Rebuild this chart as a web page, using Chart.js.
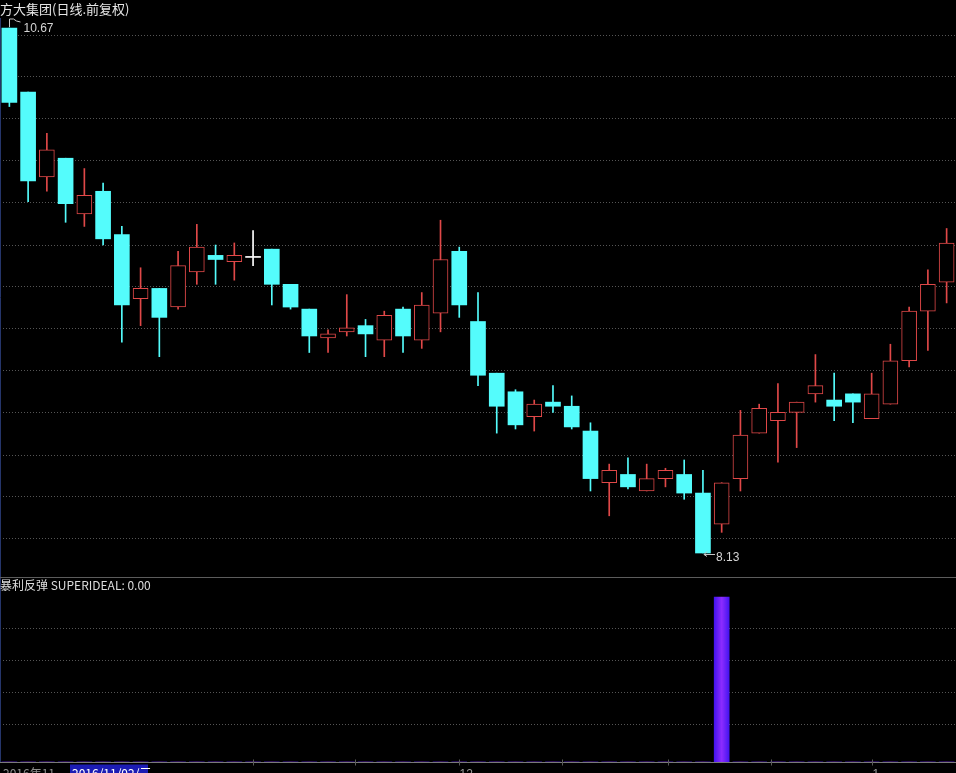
<!DOCTYPE html>
<html>
<head>
<meta charset="utf-8">
<script src="https://cdn.jsdelivr.net/npm/chart.js@4.4.1/dist/chart.umd.min.js"></script>
<style>
  html, body { margin: 0; padding: 0; background: #000; overflow: hidden; }
  #wrap { position: relative; width: 956px; height: 773px; background: #000; }
  canvas { position: absolute; left: 0; display: block; }
  #kline { top: 0; }
  #ind { top: 577px; }
</style>
</head>
<body>
<div id="wrap">
  <canvas id="kline" width="956" height="577"></canvas>
  <canvas id="ind" width="956" height="196"></canvas>
</div>
<script>
// 方大集团 日线 (前复权), 51 trading days
var opens  = [10.67, 10.36, 9.95, 10.04, 9.77, 9.88, 9.67, 9.36, 9.41, 9.32,
              9.49, 9.57, 9.54, 9.56, 9.60, 9.43, 9.31, 9.17, 9.20, 9.23,
              9.16, 9.31, 9.16, 9.29, 9.59, 9.25, 9.00, 8.91, 8.79, 8.86,
              8.84, 8.72, 8.47, 8.51, 8.43, 8.49, 8.51, 8.42, 8.27, 8.49,
              8.71, 8.77, 8.81, 8.90, 8.87, 8.90, 8.78, 8.85, 9.06, 9.30, 9.44];
var highs  = [10.67, 10.36, 10.16, 10.04, 9.99, 9.92, 9.71, 9.51, 9.41, 9.59,
              9.72, 9.62, 9.63, 9.69, 9.60, 9.43, 9.31, 9.21, 9.38, 9.26,
              9.30, 9.32, 9.39, 9.74, 9.61, 9.39, 9.00, 8.92, 8.87, 8.94,
              8.89, 8.76, 8.56, 8.59, 8.56, 8.54, 8.58, 8.53, 8.47, 8.82,
              8.85, 8.95, 8.86, 9.09, 9.00, 8.90, 9.00, 9.14, 9.32, 9.50, 9.70];
var lows   = [10.29, 9.83, 9.88, 9.73, 9.71, 9.62, 9.15, 9.23, 9.08, 9.31,
              9.43, 9.43, 9.45, 9.52, 9.33, 9.31, 9.10, 9.10, 9.18, 9.08,
              9.08, 9.10, 9.12, 9.20, 9.27, 8.94, 8.71, 8.73, 8.72, 8.81,
              8.73, 8.43, 8.31, 8.44, 8.43, 8.45, 8.39, 8.13, 8.23, 8.43,
              8.71, 8.57, 8.64, 8.86, 8.77, 8.76, 8.78, 8.85, 9.03, 9.11, 9.34];
var closes = [10.31, 9.93, 10.08, 9.82, 9.86, 9.65, 9.33, 9.41, 9.27, 9.52,
              9.61, 9.55, 9.57, 9.56, 9.43, 9.32, 9.18, 9.19, 9.22, 9.19,
              9.28, 9.18, 9.33, 9.55, 9.33, 8.99, 8.84, 8.75, 8.85, 8.84,
              8.74, 8.49, 8.53, 8.45, 8.49, 8.53, 8.42, 8.13, 8.47, 8.70,
              8.83, 8.81, 8.86, 8.94, 8.84, 8.86, 8.90, 9.06, 9.30, 9.43, 9.63];
// 暴利反弹 SUPERIDEAL signal
var signal = [0, 0, 0, 0, 0, 0, 0, 0, 0, 0,
              0, 0, 0, 0, 0, 0, 0, 0, 0, 0,
              0, 0, 0, 0, 0, 0, 0, 0, 0, 0,
              0, 0, 0, 0, 0, 0, 0, 0, 1, 0,
              0, 0, 0, 0, 0, 0, 0, 0, 0, 0, 0];
// bottom axis ticks (position in bar slots) and their labels
var xTickPos    = [13.5, 18.94, 24.5, 29.98, 35.64, 41.13, 46.5];
var xTickLabels = ['', '', '12', '', '', '', '1'];
// dotted grid levels
var priceGrid = [8.198, 8.401, 8.604, 8.808, 9.011, 9.214, 9.417, 9.620, 9.824, 10.027, 10.230, 10.433, 10.636];
var sigGrid   = [0.23, 0.424, 0.618, 0.812];

var title = '方大集团(日线.前复权)';
var indLabel = '暴利反弹 SUPERIDEAL: 0.00';

var UP = '#e04848', DOWN = '#54fcfc', FLAT = '#ffffff';
var GRID = '#555555';

function dir(i) {
  if (closes[i] > opens[i]) return 1;
  if (closes[i] < opens[i]) return -1;
  return 0;
}
function colorOf(i) {
  var d = dir(i);
  return d > 0 ? UP : (d < 0 ? DOWN : FLAT);
}

var wicks = [], bodies = [];
for (var i = 0; i < opens.length; i++) {
  wicks.push({ x: i + 0.5, y: [lows[i], highs[i]] });
  bodies.push({ x: i + 0.5, y: [Math.min(opens[i], closes[i]), Math.max(opens[i], closes[i])] });
}

var topDecor = {
  id: 'topDecor',
  afterDraw: function(chart) {
    var ctx = chart.ctx, xs = chart.scales.x, ys = chart.scales.y;
    ctx.save();
    ctx.strokeStyle = '#25356a';
    ctx.lineWidth = 1;
    ctx.beginPath(); ctx.moveTo(0.5, 18); ctx.lineTo(0.5, chart.height); ctx.stroke();

    ctx.fillStyle = '#e6e6e6';
    ctx.font = '13px "Noto Sans CJK SC"';
    ctx.textBaseline = 'alphabetic';
    ctx.fillText(title, 0, 14);

    // highest high marker
    var hi = highs.indexOf(Math.max.apply(null, highs));
    var hx = Math.round(xs.getPixelForValue(hi + 0.5)) + 0.5;
    var hy = Math.round(ys.getPixelForValue(highs[hi]));
    ctx.strokeStyle = '#c8c8c8';
    ctx.beginPath();
    ctx.moveTo(hx, hy - 1); ctx.lineTo(hx, hy - 9);
    ctx.lineTo(hx + 4, hy - 9); ctx.lineTo(hx + 7, hy - 7); ctx.lineTo(hx + 11, hy - 6);
    ctx.stroke();
    ctx.fillStyle = '#d4d4d4';
    ctx.font = '12px "Liberation Sans"';
    ctx.fillText(highs[hi].toFixed(2), hx + 14, hy + 4);

    // lowest low marker
    var lo = lows.indexOf(Math.min.apply(null, lows));
    var lx = Math.round(xs.getPixelForValue(lo + 0.5));
    var ly = Math.round(ys.getPixelForValue(lows[lo])) + 0.5;
    ctx.beginPath();
    ctx.moveTo(lx + 1, ly + 1); ctx.lineTo(lx + 12, ly + 1);
    ctx.moveTo(lx + 1, ly + 1); ctx.lineTo(lx + 4, ly - 2);
    ctx.moveTo(lx + 1, ly + 1); ctx.lineTo(lx + 4, ly + 3);
    ctx.stroke();
    ctx.fillText(lows[lo].toFixed(2), lx + 13, ly + 7);
    ctx.restore();
  }
};

new Chart(document.getElementById('kline').getContext('2d'), {
  type: 'bar',
  data: {
    datasets: [{
      label: 'body',
      data: bodies,
      grouped: false,
      barThickness: 15,
      minBarLength: 1,
      borderSkipped: false,
      backgroundColor: function(c) { var d = dir(c.dataIndex); return d > 0 ? '#000000' : colorOf(c.dataIndex); },
      borderColor: function(c) { return colorOf(c.dataIndex); },
      borderWidth: function(c) { return dir(c.dataIndex) > 0 ? 1 : 0; }
    }, {
      label: 'wick',
      data: wicks,
      grouped: false,
      barThickness: 1,
      borderWidth: 0,
      backgroundColor: function(c) { return colorOf(c.dataIndex); }
    }]
  },
  options: {
    responsive: false,
    animation: false,
    events: [],
    layout: { padding: 0 },
    plugins: { legend: { display: false }, tooltip: { enabled: false } },
    scales: {
      x: { type: 'linear', min: 0, max: 51, offset: false, display: false },
      y: {
        min: 8.0139, max: 10.8055,
        ticks: { display: false },
        grid: { color: GRID, drawTicks: false },
        border: { display: false, dash: [1, 2] },
        afterBuildTicks: function(s) { s.ticks = priceGrid.map(function(v) { return { value: v }; }); }
      }
    }
  },
  plugins: [topDecor]
});

var indDecor = {
  id: 'indDecor',
  afterDraw: function(chart) {
    var ctx = chart.ctx, xs = chart.scales.x, a = chart.chartArea;
    ctx.save();
    ctx.strokeStyle = '#25356a';
    ctx.lineWidth = 1;
    ctx.beginPath(); ctx.moveTo(0.5, 0); ctx.lineTo(0.5, a.bottom); ctx.stroke();
    ctx.strokeStyle = '#5c5c5c';
    ctx.beginPath(); ctx.moveTo(0, 0.5); ctx.lineTo(chart.width, 0.5); ctx.stroke();

    ctx.fillStyle = '#dcdcdc';
    ctx.font = '12px "Noto Sans CJK SC"';
    ctx.textBaseline = 'alphabetic';
    ctx.fillText(indLabel, 0, 13);

    var ay = Math.round(a.bottom) + 0.5;
    ctx.strokeStyle = '#7a7a7a';
    ctx.beginPath(); ctx.moveTo(0, ay); ctx.lineTo(chart.width, ay); ctx.stroke();
    ctx.fillStyle = '#9a9a9a';
    ctx.font = '12px "Liberation Sans"';
    for (var k = 0; k < xTickPos.length; k++) {
      var tx = Math.round(xs.getPixelForValue(xTickPos[k])) + 0.5;
      ctx.strokeStyle = '#5a5a5a';
      ctx.beginPath(); ctx.moveTo(tx, ay - 3); ctx.lineTo(tx, ay + 3); ctx.stroke();
      if (xTickLabels[k]) ctx.fillText(xTickLabels[k], tx, ay + 15);
    }
    ctx.fillStyle = '#8c8c8c';
    ctx.font = '12px "Noto Sans CJK SC"';
    ctx.fillText('2016年11', 3, ay + 15);
    ctx.fillStyle = '#1c1cb4';
    ctx.fillRect(70, ay + 2, 78, 12);
    ctx.fillStyle = '#ffffff';
    ctx.fillText('2016/11/02/三', 72, ay + 15);
    ctx.restore();
  }
};

new Chart(document.getElementById('ind').getContext('2d'), {
  type: 'bar',
  data: {
    datasets: [{
      label: 'SUPERIDEAL',
      data: signal.map(function(v, i) { return { x: i + 0.5, y: v }; }),
      barThickness: 15,
      borderWidth: 0,
      backgroundColor: function(c) {
        var ch = c.chart;
        if (!ch.chartArea) return '#6a1cff';
        var x = ch.scales.x.getPixelForValue(c.dataIndex + 0.5);
        var g = ch.ctx.createLinearGradient(x - 7.5, 0, x + 7.5, 0);
        g.addColorStop(0, '#4414f0');
        g.addColorStop(0.5, '#8c2cff');
        g.addColorStop(1, '#4414f0');
        return g;
      }
    }]
  },
  options: {
    responsive: false,
    animation: false,
    events: [],
    layout: { padding: { top: 0, bottom: 11, left: 0, right: 0 } },
    plugins: { legend: { display: false }, tooltip: { enabled: false } },
    scales: {
      x: { type: 'linear', min: 0, max: 51, offset: false, display: false },
      y: {
        min: 0, max: 1.1212,
        ticks: { display: false },
        grid: { color: GRID, drawTicks: false },
        border: { display: false, dash: [1, 2] },
        afterBuildTicks: function(s) { s.ticks = sigGrid.map(function(v) { return { value: v }; }); }
      }
    }
  },
  plugins: [indDecor]
});
</script>
</body>
</html>
